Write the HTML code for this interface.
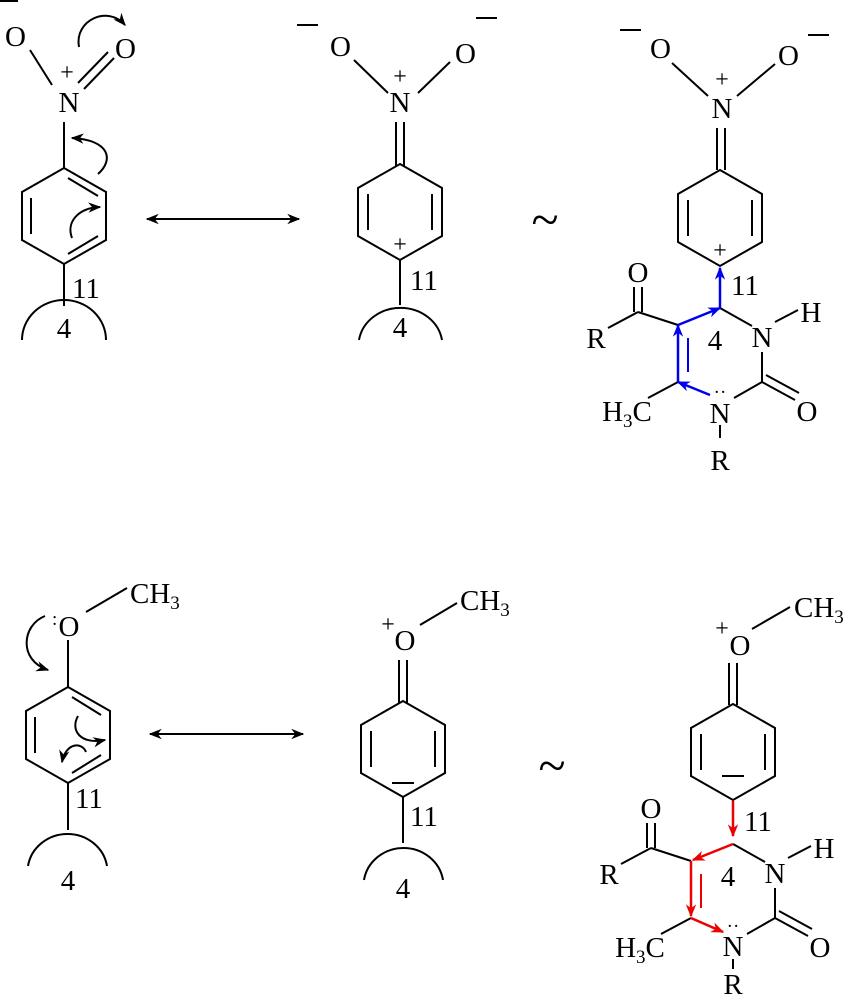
<!DOCTYPE html>
<html><head><meta charset="utf-8"><style>
html,body{margin:0;padding:0;background:#fff}
svg{display:block}
text{font-family:"Liberation Serif",serif;font-size:29px;fill:#000}
.s{font-size:19px}
.p{font-size:24px}
.t{font-size:50px}
</style></head><body>
<svg width="843" height="1000" viewBox="0 0 843 1000" xmlns="http://www.w3.org/2000/svg">
<defs>
<marker id="ah" viewBox="0 0 10 10" refX="9" refY="5" markerWidth="13" markerHeight="13" orient="auto-start-reverse" markerUnits="userSpaceOnUse"><path d="M0,1 L10,5 L0,9 L3,5z" fill="#000"/></marker>
<marker id="bh" viewBox="0 0 10 10" refX="9" refY="5" markerWidth="13" markerHeight="13" orient="auto" markerUnits="userSpaceOnUse"><path d="M0,1 L10,5 L0,9 L3,5z" fill="#0000ee"/></marker>
<marker id="rh" viewBox="0 0 10 10" refX="9" refY="5" markerWidth="13" markerHeight="13" orient="auto" markerUnits="userSpaceOnUse"><path d="M0,1 L10,5 L0,9 L3,5z" fill="#ee0000"/></marker>
</defs>
<g stroke="#000" stroke-width="2" fill="none">
<!-- top-left -->
<line x1="0" y1="1" x2="18" y2="1"/>
<line x1="30" y1="50" x2="52" y2="85"/>
<line x1="78" y1="83" x2="108" y2="52"/><line x1="84" y1="89" x2="114" y2="58"/>
<line x1="64" y1="122" x2="64" y2="168"/>
<polygon points="64,168 106,192 106,240 64,264 22,240 22,192"/>
<line x1="31" y1="198" x2="31" y2="234"/><line x1="68" y1="178" x2="98" y2="196"/><line x1="68" y1="254" x2="98" y2="236"/>
<line x1="64" y1="264" x2="64" y2="306"/>
<path d="M22,340 A42,40 0 0 1 106,340"/>
<path d="M79,47 C74,20 108,5 125,25" marker-end="url(#ah)"/>
<path d="M98,174 C114,160 110,140 72,138" marker-end="url(#ah)"/>
<path d="M72,238 C66,222 78,208 100,207" marker-end="url(#ah)"/>
<line x1="147" y1="219" x2="299" y2="219" marker-start="url(#ah)" marker-end="url(#ah)"/>
<!-- minus signs -->
<line x1="297" y1="25" x2="318" y2="25"/><line x1="476" y1="18" x2="497" y2="18"/>
<line x1="620" y1="30" x2="641" y2="30"/><line x1="808" y1="35" x2="829" y2="35"/>
<!-- top-mid -->
<line x1="354" y1="60" x2="388" y2="93"/><line x1="418" y1="93" x2="450" y2="62"/>
<line x1="396" y1="122" x2="396" y2="166"/><line x1="404" y1="122" x2="404" y2="166"/>
<polygon points="400,164 442,188 442,236 400,260 358,236 358,188"/>
<line x1="368" y1="194" x2="368" y2="230"/><line x1="432" y1="194" x2="432" y2="230"/>
<line x1="400" y1="260" x2="400" y2="305"/>
<path d="M359,340 A42,38 0 0 1 442,340"/>
<!-- top-right -->
<line x1="672" y1="63" x2="708" y2="96"/><line x1="737" y1="96" x2="775" y2="64"/>
<line x1="717" y1="128" x2="717" y2="170"/><line x1="725" y1="128" x2="725" y2="170"/>
<polygon points="720,170 762,194 762,242 720,266 678,242 678,194"/>
<line x1="688" y1="200" x2="688" y2="236"/><line x1="752" y1="200" x2="752" y2="236"/>
</g>
<g id="pyr" stroke="#000" stroke-width="2" fill="none">
<line x1="678" y1="325" x2="638" y2="312"/>
<line x1="634" y1="312" x2="634" y2="287"/><line x1="642" y1="312" x2="642" y2="287"/>
<line x1="638" y1="312" x2="608" y2="328"/>
<line x1="720" y1="308" x2="752" y2="326"/>
<line x1="762" y1="352" x2="762" y2="382"/>
<line x1="762" y1="382" x2="734" y2="398"/>
<line x1="762" y1="382" x2="795" y2="400"/><line x1="766" y1="375" x2="799" y2="393"/>
<line x1="678" y1="382" x2="648" y2="398"/>
<line x1="775" y1="322" x2="798" y2="310"/>
</g>
<line x1="720" y1="425" x2="720" y2="438" stroke="#000" stroke-width="2"/>
<g stroke="#0000ee" stroke-width="2.5" fill="none">
<line x1="720" y1="308" x2="720" y2="268" marker-end="url(#bh)"/>
<line x1="678" y1="325" x2="720" y2="308" marker-end="url(#bh)"/>
<line x1="678" y1="382" x2="678" y2="325" marker-end="url(#bh)"/>
<line x1="688" y1="338" x2="688" y2="372" stroke-width="2"/>
<line x1="710" y1="395" x2="678" y2="382" marker-end="url(#bh)"/>
</g>
<g>
<text x="5" y="46">O</text><text x="115" y="58">O</text>
<text x="67" y="80" class="p" text-anchor="middle">+</text>
<text x="69" y="112" text-anchor="middle">N</text>
<text x="72" y="298">11</text>
<text x="64" y="338" text-anchor="middle">4</text>
<text x="330" y="56">O</text><text x="455" y="63">O</text>
<text x="400" y="84" class="p" text-anchor="middle">+</text>
<text x="400" y="112" text-anchor="middle">N</text>
<text x="400" y="252" class="p" text-anchor="middle">+</text>
<text x="410" y="290">11</text>
<text x="400" y="337" text-anchor="middle">4</text>
<text x="545" y="236" class="t" text-anchor="middle">~</text>
<text x="650" y="58">O</text><text x="778" y="65">O</text>
<text x="722" y="87" class="p" text-anchor="middle">+</text>
<text x="722" y="118" text-anchor="middle">N</text>
<text x="720" y="258" class="p" text-anchor="middle">+</text>
<text x="731" y="295">11</text>
<text x="715" y="350" text-anchor="middle">4</text>
<text x="638" y="282" text-anchor="middle">O</text>
<text x="596" y="348" text-anchor="middle">R</text>
<text x="762" y="347" text-anchor="middle">N</text>
<text x="811" y="322" text-anchor="middle">H</text>
<text x="807" y="421" text-anchor="middle">O</text>
<text x="720" y="423" text-anchor="middle">N</text>
<text x="720" y="398" class="s" text-anchor="middle">··</text>
<text x="627" y="421" text-anchor="middle">H<tspan class="s" dy="6">3</tspan><tspan dy="-6">C</tspan></text>
<text x="720" y="470" text-anchor="middle">R</text>
</g>
<!-- bottom -->
<g stroke="#000" stroke-width="2" fill="none">
<line x1="86" y1="612" x2="127" y2="588"/>
<line x1="68" y1="640" x2="68" y2="687"/>
<polygon points="68,687 110,711 110,759 68,783 26,759 26,711"/>
<line x1="35" y1="717" x2="35" y2="753"/><line x1="72" y1="697" x2="101" y2="715"/><line x1="72" y1="773" x2="101" y2="755"/>
<line x1="68" y1="783" x2="68" y2="830"/>
<path d="M28,866 A40,38 0 0 1 107,866"/>
<path d="M45,616 C22,625 18,660 48,670" marker-end="url(#ah)"/>
<path d="M78,716 C70,730 80,745 105,740" marker-end="url(#ah)"/>
<path d="M86,752 C82,742 66,742 62,762" marker-end="url(#ah)"/>
<line x1="150" y1="734" x2="303" y2="734" marker-start="url(#ah)" marker-end="url(#ah)"/>
<line x1="420" y1="625" x2="457" y2="603"/>
<line x1="399" y1="660" x2="399" y2="703"/><line x1="407" y1="660" x2="407" y2="703"/>
<polygon points="403,701 445,725 445,773 403,797 361,773 361,725"/>
<line x1="371" y1="731" x2="371" y2="767"/><line x1="435" y1="731" x2="435" y2="767"/>
<line x1="403" y1="797" x2="403" y2="843"/>
<path d="M364,880 A40,38 0 0 1 443,880"/>
<line x1="752" y1="629" x2="790" y2="607"/>
<line x1="729" y1="663" x2="729" y2="705"/><line x1="737" y1="663" x2="737" y2="705"/>
<polygon points="733,704 775,728 775,776 733,800 691,776 691,728"/>
<line x1="701" y1="734" x2="701" y2="770"/><line x1="765" y1="734" x2="765" y2="770"/>
<line x1="392" y1="783" x2="414" y2="783"/><line x1="722" y1="776" x2="744" y2="776"/>
</g>
<g transform="translate(13,536)">
<use href="#pyr"/>
<line x1="720" y1="423" x2="720" y2="433" stroke="#000" stroke-width="2"/>
<g stroke="#ee0000" stroke-width="2.5" fill="none">
<line x1="720" y1="265" x2="720" y2="300" marker-end="url(#rh)"/>
<line x1="720" y1="308" x2="680" y2="324" marker-end="url(#rh)"/>
<line x1="678" y1="325" x2="678" y2="380" marker-end="url(#rh)"/>
<line x1="688" y1="338" x2="688" y2="372" stroke-width="2"/>
<line x1="678" y1="382" x2="710" y2="396" marker-end="url(#rh)"/>
</g>
<g>
<text x="731" y="295">11</text>
<text x="715" y="350" text-anchor="middle">4</text>
<text x="638" y="282" text-anchor="middle">O</text>
<text x="596" y="348" text-anchor="middle">R</text>
<text x="762" y="347" text-anchor="middle">N</text>
<text x="811" y="322" text-anchor="middle">H</text>
<text x="807" y="421" text-anchor="middle">O</text>
<text x="720" y="420" text-anchor="middle">N</text>
<text x="720" y="396" class="s" text-anchor="middle">··</text>
<text x="627" y="421" text-anchor="middle">H<tspan class="s" dy="6">3</tspan><tspan dy="-6">C</tspan></text>
<text x="720" y="458" text-anchor="middle">R</text>
</g>
</g>
<g>
<text x="69" y="636" text-anchor="middle">O</text>
<text x="52" y="625" class="s">:</text>
<text x="130" y="603">CH<tspan class="s" dy="6">3</tspan></text>
<text x="75" y="808">11</text>
<text x="68" y="890" text-anchor="middle">4</text>
<text x="405" y="650" text-anchor="middle">O</text>
<text x="388" y="632" class="p" text-anchor="middle">+</text>
<text x="460" y="610">CH<tspan class="s" dy="6">3</tspan></text>
<text x="410" y="826">11</text>
<text x="403" y="898" text-anchor="middle">4</text>
<text x="552" y="782" class="t" text-anchor="middle">~</text>
<text x="740" y="655" text-anchor="middle">O</text>
<text x="722" y="636" class="p" text-anchor="middle">+</text>
<text x="794" y="617">CH<tspan class="s" dy="6">3</tspan></text>
</g>
</svg>
</body></html>
